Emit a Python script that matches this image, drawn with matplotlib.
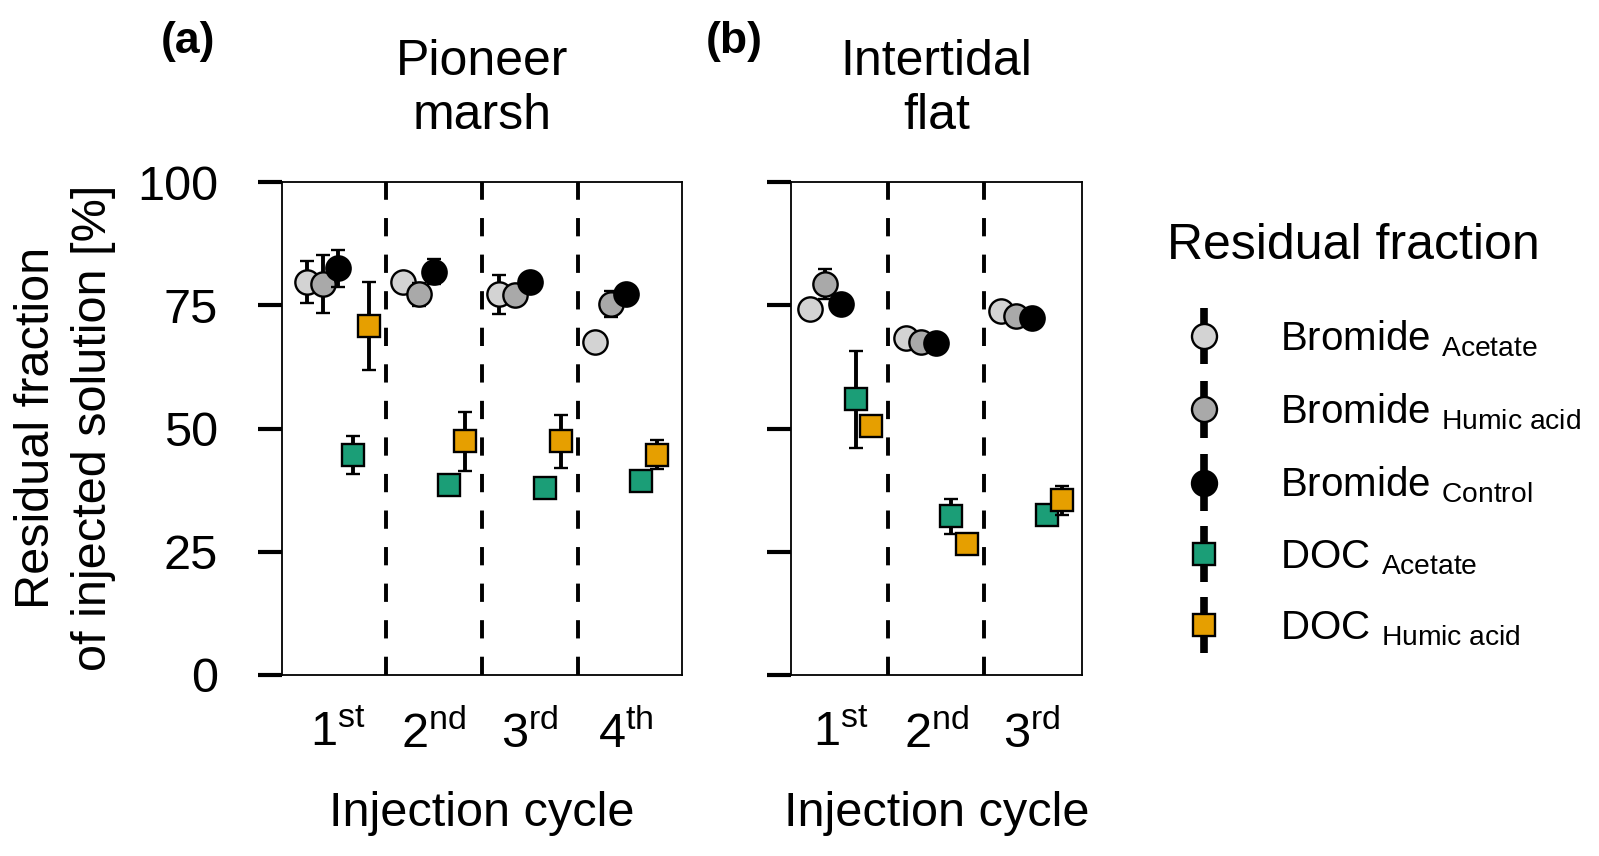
import matplotlib
matplotlib.use('Agg')
import matplotlib.pyplot as plt
import numpy as np
from matplotlib.lines import Line2D
from matplotlib.collections import LineCollection
from matplotlib.container import ErrorbarContainer
from matplotlib.legend_handler import HandlerErrorbar

plt.rcParams['font.family'] = ['Liberation Sans', 'DejaVu Sans']
plt.rcParams['mathtext.fontset'] = 'custom'
plt.rcParams['mathtext.rm'] = 'Liberation Sans'
plt.rcParams['mathtext.it'] = 'Liberation Sans:italic'
plt.rcParams['mathtext.bf'] = 'Liberation Sans:bold'

# ---------------- data ----------------
cycle_labels_a = ['1$^{\\mathrm{st}}$', '2$^{\\mathrm{nd}}$', '3$^{\\mathrm{rd}}$', '4$^{\\mathrm{th}}$']
cycle_labels_b = ['1$^{\\mathrm{st}}$', '2$^{\\mathrm{nd}}$', '3$^{\\mathrm{rd}}$']

series_names = ['Bromide $_{\\mathrm{Acetate}}$', 'Bromide $_{\\mathrm{Humic\\ acid}}$',
                'Bromide $_{\\mathrm{Control}}$', 'DOC $_{\\mathrm{Acetate}}$',
                'DOC $_{\\mathrm{Humic\\ acid}}$']

# (a) Pioneer marsh
br_acetate_a = [79.7, 79.7, 77.2, 67.6]
br_acetate_a_sd = [4.3, 1.0, 3.9, 1.0]
br_humic_a = [79.3, 77.2, 77.0, 75.2]
br_humic_a_sd = [5.9, 2.3, 1.0, 2.6]
br_control_a = [82.5, 81.8, 79.7, 77.2]
br_control_a_sd = [3.7, 2.5, 1.5, 1.5]
doc_acetate_a = [44.6, 38.6, 37.9, 39.3]
doc_acetate_a_sd = [3.9, 1.0, 1.0, 1.0]
doc_humic_a = [70.8, 47.4, 47.4, 44.7]
doc_humic_a_sd = [9.0, 6.0, 5.4, 3.0]

# (b) Intertidal flat
br_acetate_b = [74.3, 68.4, 73.8]
br_acetate_b_sd = [1.0, 1.0, 1.0]
br_humic_b = [79.3, 67.5, 72.8]
br_humic_b_sd = [3.0, 1.0, 1.0]
br_control_b = [75.3, 67.3, 72.5]
br_control_b_sd = [1.0, 1.0, 1.0]
doc_acetate_b = [55.9, 32.2, 32.5]
doc_acetate_b_sd = [9.8, 3.5, 1.0]
doc_humic_b = [50.5, 26.6, 35.4]
doc_humic_b_sd = [1.0, 1.0, 3.0]

# ---------------- styles ----------------
colors = ['#d3d3d3', '#a9a9a9', '#000000', '#1b9e77', '#e69f00']
markers = ['o', 'o', 'o', 's', 's']
msizes = [17.5, 17.5, 17.5, 16, 16]
offsets = [-0.32, -0.16, 0.0, 0.16, 0.32]

fig = plt.figure(figsize=(15.99, 8.56), dpi=100)
W, H = 1599, 856
ax_a = fig.add_axes([282 / W, 181 / H, 400 / W, 493 / H])
ax_b = fig.add_axes([790.7 / W, 181 / H, 291.6 / W, 493 / H])


def draw(ax, series, sds, labels, xlim, showy):
    n = len(labels)
    x = np.arange(1, n + 1)
    for i, (vals, sd) in enumerate(zip(series, sds)):
        ax.errorbar(x + offsets[i], vals, yerr=sd, fmt=markers[i], ms=msizes[i],
                    mfc=colors[i], mec='black', mew=1.7, ecolor='black',
                    elinewidth=2.8, capsize=4.7, capthick=2.8, zorder=3 + i)
    for d in np.arange(1.5, n, 1.0):
        ax.axvline(d, color='black', lw=2.8, ls=(0, (4.7, 4.7)), zorder=1)
    ax.set_xlim(*xlim)
    ax.set_ylim(0, 100)
    ax.set_yticks([0, 25, 50, 75, 100])
    ax.set_xticks(x)
    ax.set_xticklabels(labels)
    ax.tick_params(axis='x', length=0, pad=26, labelsize=35)
    ax.tick_params(axis='y', length=17, width=3, pad=29, labelsize=35,
                   labelleft=showy)
    for s in ax.spines.values():
        s.set_linewidth(1.3)
    ax.set_xlabel('Injection cycle', fontsize=35)
    ax.xaxis.set_label_coords(0.5, -0.235)


draw(ax_a, [br_acetate_a, br_humic_a, br_control_a, doc_acetate_a, doc_humic_a],
     [br_acetate_a_sd, br_humic_a_sd, br_control_a_sd, doc_acetate_a_sd, doc_humic_a_sd],
     cycle_labels_a, (0.417, 4.583), True)
draw(ax_b, [br_acetate_b, br_humic_b, br_control_b, doc_acetate_b, doc_humic_b],
     [br_acetate_b_sd, br_humic_b_sd, br_control_b_sd, doc_acetate_b_sd, doc_humic_b_sd],
     cycle_labels_b, (0.477, 3.53), False)

ax_a.text(0.5, 1.088, 'Pioneer\nmarsh', transform=ax_a.transAxes, ha='center',
          va='bottom', fontsize=36, linespacing=1.2)
ax_b.text(0.5, 1.088, 'Intertidal\nflat', transform=ax_b.transAxes, ha='center',
          va='bottom', fontsize=36, linespacing=1.2)
fig.text(188 / W, 1 - 42 / H, '(a)', ha='center', va='center', fontsize=32,
         fontweight='bold')
fig.text(734 / W, 1 - 42 / H, '(b)', ha='center', va='center', fontsize=32,
         fontweight='bold')
fig.text(65 / W, 1 - 428 / H, 'Residual fraction\nof injected solution [%]',
         rotation=90, ha='center', va='center', fontsize=35, linespacing=1.35)

# legend title
fig.text(1167 / W, 1 - 246 / H, 'Residual fraction', ha='left', va='center',
         fontsize=36)

# legend proxies
handles = []
for i in range(5):
    ln = Line2D([], [], marker=markers[i], ms=msizes[i] + 0.5, mfc=colors[i],
                mec='black', mew=1.7, ls='none')
    lc = LineCollection([], linewidths=5.5, colors='black')
    handles.append(ErrorbarContainer((ln, (), (lc,)), has_xerr=False,
                                     has_yerr=True, label=series_names[i]))

fig.legend(handles=handles, labels=series_names, loc='upper left',
           bbox_to_anchor=(1127 / W, 1 - 282 / H), frameon=False,
           fontsize=29,
           handler_map={ErrorbarContainer: HandlerErrorbar(yerr_size=0.7)},
           handlelength=2.0, handletextpad=0.9, labelspacing=0.81,
           borderpad=0.4)

fig.savefig('out.png', dpi=100)
